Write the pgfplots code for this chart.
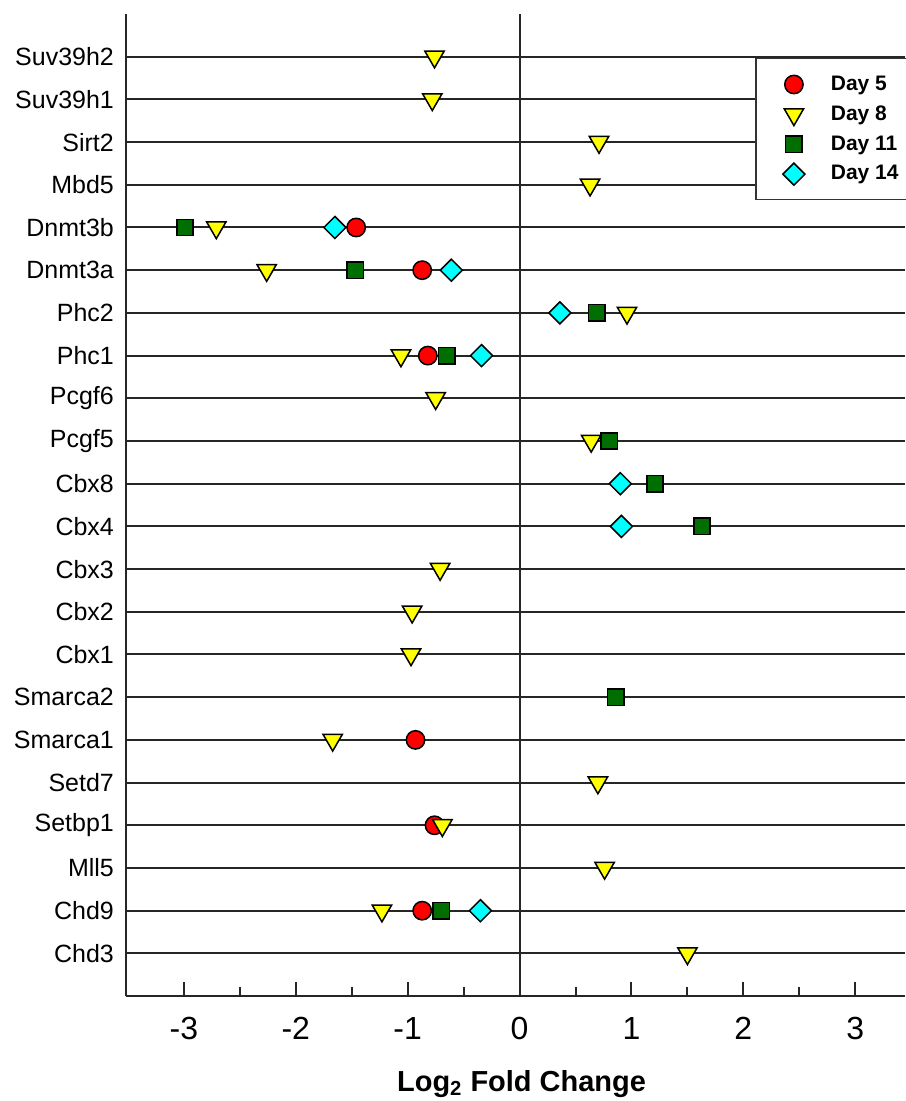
\documentclass[border=0pt]{standalone}
\usepackage{fontspec}
\setmainfont{Liberation Sans}
\usepackage{pgfplots}
\pgfplotsset{compat=1.18}
\definecolor{dgreen}{RGB}{0,110,0}
\definecolor{mycyan}{RGB}{0,255,255}
\definecolor{myred}{RGB}{255,0,0}
\definecolor{myyellow}{RGB}{255,255,0}
\begin{document}
\begin{tikzpicture}
\begin{axis}[name=ax, scale only axis, width=390pt, height=491.5pt,
  xmin=-3.518, xmax=3.446, ymin=0, ymax=23,
  axis x line*=bottom, axis y line*=left,
  axis line style={line width=1pt, black!85, -},
  xtick={-3,...,3}, minor xtick={-2.5,-1.5,...,2.5},
  tick align=inside, major tick length=7pt, minor tick length=4.5pt,
  x tick style={line width=1pt, black!85},
  ytick={1,...,22},
  yticklabels={Chd3,Chd9,Mll5,Setbp1,Setd7,Smarca1,Smarca2,Cbx1,Cbx2,Cbx3,Cbx4,Cbx8,Pcgf5,Pcgf6,Phc1,Phc2,Dnmt3a,Dnmt3b,Mbd5,Sirt2,Suv39h1,Suv39h2},
  y tick style={draw=none},
  ymajorgrids, major grid style={line width=1pt, black!85},
  extra x ticks={0}, extra x tick labels={}, extra x tick style={grid=major, major tick length=0pt},
  /pgf/number format/assume math mode=true,
  xticklabel style={font=\fontsize{16}{18}\selectfont, yshift=-7pt},
  yticklabel style={font=\fontsize{12.5}{14}\selectfont, xshift=-2.5pt},
  xlabel={Log\textsubscript{2} Fold Change},
  xlabel style={at={(axis description cs:0.5,0)}, anchor=base, yshift=-47.5pt, xshift=3pt, font=\fontsize{14.5}{16}\selectfont\bfseries},
  legend cell align=left,
  legend style={at={(0.8077,0.955)}, anchor=north west, font=\fontsize{10.5}{12}\selectfont\bfseries, draw=black!80, line width=0.6pt, inner xsep=13.5pt, inner ysep=7pt, row sep=3.2pt, nodes={inner ysep=1.5pt}, column sep=11pt},
]
\addplot[only marks, mark=*, mark size=4.6pt, mark options={fill=myred, draw=black, line width=0.75pt}] coordinates {
(-1.46,18) (-0.87,17) (-0.82,15) (-0.93,6) (-0.76,4) (-0.87,2)};
\addlegendentry{Day 5}
\addplot[only marks, mark=triangle*, mark size=5.6pt, mark options={rotate=180, fill=myyellow, draw=black, line width=0.75pt}] coordinates {
(-0.76,22) (-0.78,21) (0.71,20) (0.63,19) (-2.71,18) (-2.26,17) (0.96,16) (-1.06,15) (-0.75,14) (0.64,13) (-0.71,10) (-0.96,9) (-0.97,8) (-1.67,6) (0.70,5) (-0.69,4) (0.76,3) (-1.23,2) (1.50,1)};
\addlegendentry{Day 8}
\addplot[only marks, mark=square*, mark size=4.1pt, mark options={fill=dgreen, draw=black, line width=0.75pt}] coordinates {
(-2.99,18) (-1.47,17) (0.69,16) (-0.65,15) (0.80,13) (1.21,12) (1.63,11) (0.86,7) (-0.70,2)};
\addlegendentry{Day 11}
\addplot[only marks, mark=square*, mark size=3.9pt, mark options={rotate=45, fill=mycyan, draw=black, line width=0.75pt}] coordinates {
(-1.65,18) (-0.61,17) (0.36,16) (-0.34,15) (0.90,12) (0.91,11) (-0.35,2)};
\addlegendentry{Day 14}
\end{axis}
\pgfresetboundingbox
\path ([xshift=-63pt,yshift=-52.5pt]ax.south west) rectangle ([yshift=7pt]ax.north east);
\end{tikzpicture}
\end{document}
